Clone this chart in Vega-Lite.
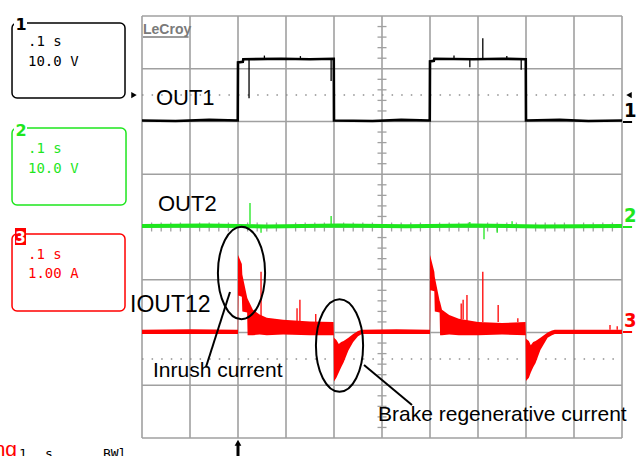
{
  "$schema": "https://vega.github.io/schema/vega-lite/v6.json",
  "width": 642,
  "height": 456,
  "autosize": {"type": "none"},
  "padding": 0,
  "background": "white",
  "config": {"view": {"stroke": null}},
  "encoding": {
    "x": {"field": "t", "type": "quantitative", "scale": {"domain": [-2.95833, 10.41667], "nice": false, "zero": false}, "axis": null},
    "y": {"field": "v", "type": "quantitative", "scale": {"domain": [-4.3412, 4.3033], "nice": false, "zero": false}, "axis": null}
  },
  "layer": [
    {
      "data": {"values": [
        {"t": 0, "v": -4, "v2": 4}, {"t": 1, "v": -4, "v2": 4}, {"t": 2, "v": -4, "v2": 4}, {"t": 3, "v": -4, "v2": 4},
        {"t": 4, "v": -4, "v2": 4}, {"t": 5, "v": -4, "v2": 4}, {"t": 6, "v": -4, "v2": 4}, {"t": 7, "v": -4, "v2": 4},
        {"t": 8, "v": -4, "v2": 4}, {"t": 9, "v": -4, "v2": 4}, {"t": 10, "v": -4, "v2": 4}
      ]},
      "mark": {"type": "rule", "color": "#a0a0a0", "strokeWidth": 1.6},
      "encoding": {"y2": {"field": "v2"}}
    },
    {
      "data": {"values": [
        {"v": -4, "t": 0, "t2": 10}, {"v": -3, "t": 0, "t2": 10}, {"v": -2, "t": 0, "t2": 10}, {"v": -1, "t": 0, "t2": 10},
        {"v": 0, "t": 0, "t2": 10}, {"v": 1, "t": 0, "t2": 10}, {"v": 2, "t": 0, "t2": 10}, {"v": 3, "t": 0, "t2": 10},
        {"v": 4, "t": 0, "t2": 10}
      ]},
      "mark": {"type": "rule", "color": "#a0a0a0", "strokeWidth": 1.6},
      "encoding": {"x2": {"field": "t2"}}
    },
    {
      "data": {"values": [
        {"t": 5, "v": -3.8}, {"t": 5, "v": -3.6}, {"t": 5, "v": -3.4}, {"t": 5, "v": -3.2}, {"t": 5, "v": -2.8}, {"t": 5, "v": -2.6}, {"t": 5, "v": -2.4}, {"t": 5, "v": -2.2},
        {"t": 5, "v": -1.8}, {"t": 5, "v": -1.6}, {"t": 5, "v": -1.4}, {"t": 5, "v": -1.2}, {"t": 5, "v": -0.8}, {"t": 5, "v": -0.6}, {"t": 5, "v": -0.4}, {"t": 5, "v": -0.2},
        {"t": 5, "v": 0.2}, {"t": 5, "v": 0.4}, {"t": 5, "v": 0.6}, {"t": 5, "v": 0.8}, {"t": 5, "v": 1.2}, {"t": 5, "v": 1.4}, {"t": 5, "v": 1.6}, {"t": 5, "v": 1.8},
        {"t": 5, "v": 2.2}, {"t": 5, "v": 2.4}, {"t": 5, "v": 2.6}, {"t": 5, "v": 2.8}, {"t": 5, "v": 3.2}, {"t": 5, "v": 3.4}, {"t": 5, "v": 3.6}, {"t": 5, "v": 3.8}
      ]},
      "mark": {"type": "tick", "orient": "horizontal", "color": "#a0a0a0", "thickness": 1.3, "size": 9, "opacity": 1}
    },
    {
      "data": {"values": [
        {"v": 0, "t": 0.2}, {"v": 0, "t": 0.4}, {"v": 0, "t": 0.6}, {"v": 0, "t": 0.8}, {"v": 0, "t": 1.2}, {"v": 0, "t": 1.4}, {"v": 0, "t": 1.6}, {"v": 0, "t": 1.8},
        {"v": 0, "t": 2.2}, {"v": 0, "t": 2.4}, {"v": 0, "t": 2.6}, {"v": 0, "t": 2.8}, {"v": 0, "t": 3.2}, {"v": 0, "t": 3.4}, {"v": 0, "t": 3.6}, {"v": 0, "t": 3.8},
        {"v": 0, "t": 4.2}, {"v": 0, "t": 4.4}, {"v": 0, "t": 4.6}, {"v": 0, "t": 4.8}, {"v": 0, "t": 5.2}, {"v": 0, "t": 5.4}, {"v": 0, "t": 5.6}, {"v": 0, "t": 5.8},
        {"v": 0, "t": 6.2}, {"v": 0, "t": 6.4}, {"v": 0, "t": 6.6}, {"v": 0, "t": 6.8}, {"v": 0, "t": 7.2}, {"v": 0, "t": 7.4}, {"v": 0, "t": 7.6}, {"v": 0, "t": 7.8},
        {"v": 0, "t": 8.2}, {"v": 0, "t": 8.4}, {"v": 0, "t": 8.6}, {"v": 0, "t": 8.8}, {"v": 0, "t": 9.2}, {"v": 0, "t": 9.4}, {"v": 0, "t": 9.6}, {"v": 0, "t": 9.8}
      ]},
      "mark": {"type": "tick", "orient": "vertical", "color": "#a0a0a0", "thickness": 1.3, "size": 9, "opacity": 1}
    },
    {
      "data": {"values": [{"v": 2.5, "t": 0, "t2": 10}, {"v": -2.5, "t": 0, "t2": 10}]},
      "mark": {"type": "rule", "color": "#909090", "strokeWidth": 1.5, "strokeDash": [1.5, 8.1]},
      "encoding": {"x2": {"field": "t2"}}
    },
    {
      "data": {"values": [
        {"t": 0, "v": 0.02}, {"t": 1.3, "v": 0.03}, {"t": 2.6, "v": 0.01}, {"t": 4.1, "v": 0.03}, {"t": 5.5, "v": 0.015}, {"t": 6.9, "v": 0.03}, {"t": 8.3, "v": 0.01}, {"t": 10, "v": 0.02}
      ]},
      "mark": {"type": "line", "color": "#1ee61e", "strokeWidth": 4}
    },
    {
      "data": {"values": [
        {"t": 0, "v": 2.02}, {"t": 0.7, "v": 2.01}, {"t": 1.4, "v": 2.03}, {"t": 1.995, "v": 2.02},
        {"t": 2.0, "v": 3.12}, {"t": 2.1, "v": 3.13}, {"t": 2.11, "v": 3.18}, {"t": 2.9, "v": 3.19}, {"t": 3.5, "v": 3.18}, {"t": 3.995, "v": 3.19},
        {"t": 4.0, "v": 2.02}, {"t": 4.8, "v": 2.01}, {"t": 5.4, "v": 2.03}, {"t": 5.995, "v": 2.02},
        {"t": 6.0, "v": 3.14}, {"t": 6.08, "v": 3.15}, {"t": 6.09, "v": 3.19}, {"t": 6.9, "v": 3.18}, {"t": 7.5, "v": 3.19}, {"t": 7.995, "v": 3.18},
        {"t": 8.0, "v": 2.02}, {"t": 8.7, "v": 2.03}, {"t": 9.3, "v": 2.01}, {"t": 10, "v": 2.02}
      ]},
      "mark": {"type": "line", "color": "#000000", "strokeWidth": 2.6}
    },
    {
      "data": {"values": [
        {"t": 0, "hi": -1.95, "lo": -2.03}, {"t": 1.0, "hi": -1.94, "lo": -2.03}, {"t": 1.995, "hi": -1.95, "lo": -2.03},
        {"t": 2.0, "hi": -0.53, "lo": -2.03}, {"t": 2.01, "hi": -0.55, "lo": -1.3}, {"t": 2.08, "hi": -0.7, "lo": -1.32},
        {"t": 2.09, "hi": -0.9, "lo": -1.6}, {"t": 2.19, "hi": -1.33, "lo": -1.62}, {"t": 2.2, "hi": -1.36, "lo": -2.05},
        {"t": 2.31, "hi": -1.57, "lo": -2.05}, {"t": 2.45, "hi": -1.66, "lo": -2.04}, {"t": 2.6, "hi": -1.72, "lo": -2.05},
        {"t": 2.94, "hi": -1.76, "lo": -2.04}, {"t": 3.5, "hi": -1.79, "lo": -2.05}, {"t": 3.99, "hi": -1.8, "lo": -2.05},
        {"t": 4.0, "hi": -2.1, "lo": -2.93}, {"t": 4.05, "hi": -2.14, "lo": -2.86}, {"t": 4.1, "hi": -2.22, "lo": -2.76},
        {"t": 4.15, "hi": -2.18, "lo": -2.66}, {"t": 4.2, "hi": -2.16, "lo": -2.57}, {"t": 4.3, "hi": -2.1, "lo": -2.34},
        {"t": 4.4, "hi": -2.03, "lo": -2.18}, {"t": 4.5, "hi": -1.97, "lo": -2.07}, {"t": 4.58, "hi": -1.95, "lo": -2.03},
        {"t": 5.3, "hi": -1.94, "lo": -2.03}, {"t": 5.995, "hi": -1.95, "lo": -2.03},
        {"t": 6.0, "hi": -0.53, "lo": -2.03}, {"t": 6.01, "hi": -0.56, "lo": -1.2}, {"t": 6.09, "hi": -0.85, "lo": -1.22},
        {"t": 6.1, "hi": -0.95, "lo": -1.6}, {"t": 6.2, "hi": -1.4, "lo": -1.62}, {"t": 6.21, "hi": -1.42, "lo": -2.05},
        {"t": 6.25, "hi": -1.57, "lo": -2.05}, {"t": 6.4, "hi": -1.67, "lo": -2.04}, {"t": 6.6, "hi": -1.74, "lo": -2.05},
        {"t": 7.0, "hi": -1.8, "lo": -2.05}, {"t": 7.5, "hi": -1.82, "lo": -2.04}, {"t": 7.99, "hi": -1.8, "lo": -2.05},
        {"t": 8.0, "hi": -2.12, "lo": -2.92}, {"t": 8.06, "hi": -2.16, "lo": -2.86}, {"t": 8.1, "hi": -2.24, "lo": -2.76},
        {"t": 8.15, "hi": -2.18, "lo": -2.66}, {"t": 8.2, "hi": -2.16, "lo": -2.58}, {"t": 8.3, "hi": -2.1, "lo": -2.33},
        {"t": 8.45, "hi": -2.0, "lo": -2.1}, {"t": 8.54, "hi": -1.96, "lo": -2.05}, {"t": 8.6, "hi": -1.95, "lo": -2.03},
        {"t": 10, "hi": -1.95, "lo": -2.03}
      ]},
      "mark": {"type": "area", "color": "#ff0000", "opacity": 1},
      "encoding": {"y": {"field": "hi", "type": "quantitative"}, "y2": {"field": "lo"}}
    },
    {
      "data": {"values": [
        {"channel": "OUT1", "t": 2.23, "base": 3.17, "tip": 2.44}, {"channel": "OUT1", "t": 3.94, "base": 3.17, "tip": 2.77},
        {"channel": "OUT1", "t": 6.83, "base": 3.17, "tip": 3.03}, {"channel": "OUT1", "t": 7.1, "base": 3.2, "tip": 3.58},
        {"channel": "OUT1", "t": 7.9, "base": 3.17, "tip": 2.98}, {"channel": "OUT1", "t": 2.55, "base": 3.19, "tip": 3.25},
        {"channel": "OUT1", "t": 3.3, "base": 3.19, "tip": 3.24}, {"channel": "OUT1", "t": 6.5, "base": 3.19, "tip": 3.25},
        {"channel": "OUT1", "t": 7.6, "base": 3.19, "tip": 3.24},
        {"channel": "OUT2", "t": 2.25, "base": 0.05, "tip": 0.455}, {"channel": "OUT2", "t": 2.48, "base": 0.0, "tip": -0.11},
        {"channel": "OUT2", "t": 3.94, "base": 0.05, "tip": 0.21}, {"channel": "OUT2", "t": 6.83, "base": 0.05, "tip": 0.095},
        {"channel": "OUT2", "t": 7.125, "base": 0.0, "tip": -0.23}, {"channel": "OUT2", "t": 7.4, "base": 0.0, "tip": -0.11},
        {"channel": "OUT2", "t": 7.71, "base": 0.05, "tip": 0.11},
        {"channel": "IOUT12", "t": 2.48, "base": -1.7, "tip": -0.85}, {"channel": "IOUT12", "t": 3.23, "base": -1.78, "tip": -1.54},
        {"channel": "IOUT12", "t": 3.29, "base": -1.78, "tip": -1.38}, {"channel": "IOUT12", "t": 3.62, "base": -1.8, "tip": -1.65},
        {"channel": "IOUT12", "t": 6.65, "base": -1.75, "tip": -1.45}, {"channel": "IOUT12", "t": 6.69, "base": -1.75, "tip": -1.38},
        {"channel": "IOUT12", "t": 6.77, "base": -1.78, "tip": -1.29}, {"channel": "IOUT12", "t": 7.1, "base": -1.8, "tip": -0.85},
        {"channel": "IOUT12", "t": 7.42, "base": -1.8, "tip": -1.48}, {"channel": "IOUT12", "t": 7.83, "base": -1.8, "tip": -1.73},
        {"channel": "IOUT12", "t": 9.75, "base": -1.95, "tip": -1.86}, {"channel": "IOUT12", "t": 9.9, "base": -1.95, "tip": -1.88}
      ]},
      "mark": {"type": "rule", "strokeWidth": 1.3},
      "encoding": {
        "y": {"field": "base", "type": "quantitative"},
        "y2": {"field": "tip"},
        "color": {"field": "channel", "type": "nominal", "scale": {"domain": ["OUT1", "OUT2", "IOUT12"], "range": ["#000000", "#1ee61e", "#ff0000"]}, "legend": null}
      }
    },
    {
      "data": {"values": [{"t": 2.073, "v": -0.872}, {"t": 4.115, "v": -2.246}]},
      "mark": {"type": "point", "filled": false, "opacity": 1, "stroke": "#000000", "strokeWidth": 2, "size": 8556,
        "shape": "M 0.51 0 C 0.51 0.5523 0.2817 1 0 1 C -0.2817 1 -0.51 0.5523 -0.51 0 C -0.51 -0.5523 -0.2817 -1 0 -1 C 0.2817 -1 0.51 -0.5523 0.51 0 Z"}
    },
    {
      "data": {"values": [{"t": 1.833, "v": -1.232, "t2": 1.333, "v2": -2.654}, {"t": 4.625, "v": -2.616, "t2": 5.625, "v2": -3.374}]},
      "mark": {"type": "rule", "color": "#000000", "strokeWidth": 2},
      "encoding": {"x2": {"field": "t2"}, "y2": {"field": "v2"}}
    },
    {
      "data": {"values": [
        {"label": "OUT1", "t": 0.29, "v": 2.313},
        {"label": "OUT2", "t": 0.333, "v": 0.303}
      ]},
      "mark": {"type": "text", "font": "Liberation Sans", "fontSize": 22, "align": "left", "baseline": "alphabetic", "color": "#000000"},
      "encoding": {"text": {"field": "label"}}
    },
    {
      "data": {"values": [{"label": "IOUT12", "t": -0.25, "v": -1.611}]},
      "mark": {"type": "text", "font": "Liberation Sans", "fontSize": 23, "align": "left", "baseline": "alphabetic", "color": "#000000"},
      "encoding": {"text": {"field": "label"}}
    },
    {
      "data": {"values": [
        {"label": "Inrush current", "t": 0.229, "v": -2.844},
        {"label": "Brake regenerative current", "t": 4.917, "v": -3.678}
      ]},
      "mark": {"type": "text", "font": "Liberation Sans", "fontSize": 21, "align": "left", "baseline": "alphabetic", "color": "#000000"},
      "encoding": {"text": {"field": "label"}}
    },
    {
      "data": {"values": [
        {"channel": "OUT1", "t": -2.708, "t2": -0.354, "v": 3.867, "v2": 2.445},
        {"channel": "OUT2", "t": -2.708, "t2": -0.333, "v": 1.877, "v2": 0.417},
        {"channel": "IOUT12", "t": -2.708, "t2": -0.354, "v": -0.133, "v2": -1.592}
      ]},
      "mark": {"type": "rect", "filled": false, "strokeWidth": 1.5, "cornerRadius": 5},
      "encoding": {
        "x2": {"field": "t2"},
        "y2": {"field": "v2"},
        "color": {"field": "channel", "type": "nominal", "scale": {"domain": ["OUT1", "OUT2", "IOUT12"], "range": ["#000000", "#1ee61e", "#ff0000"]}, "legend": null}
      }
    },
    {
      "data": {"values": [
        {"channel": "OUT1", "t": -2.667, "t2": -2.396, "v": 4.057, "v2": 3.735},
        {"channel": "OUT2", "t": -2.667, "t2": -2.396, "v": 2.028, "v2": 1.706}
      ]},
      "mark": {"type": "rect", "fill": "#ffffff", "strokeWidth": 0},
      "encoding": {"x2": {"field": "t2"}, "y2": {"field": "v2"}}
    },
    {
      "data": {"values": [{"channel": "IOUT12", "t": -2.646, "t2": -2.417, "v": -0.019, "v2": -0.341}]},
      "mark": {"type": "rect", "fill": "#ff0000", "strokeWidth": 0},
      "encoding": {"x2": {"field": "t2"}, "y2": {"field": "v2"}}
    },
    {
      "data": {"values": [
        {"channel": "OUT1", "label": "1", "t": -2.52, "v": 3.735},
        {"channel": "OUT2", "label": "2", "t": -2.52, "v": 1.725}
      ]},
      "mark": {"type": "text", "font": "DejaVu Sans", "fontWeight": "bold", "fontSize": 16, "align": "center", "baseline": "alphabetic"},
      "encoding": {
        "text": {"field": "label"},
        "color": {"field": "channel", "type": "nominal", "scale": {"domain": ["OUT1", "OUT2", "IOUT12"], "range": ["#000000", "#1ee61e", "#ff0000"]}, "legend": null}
      }
    },
    {
      "data": {"values": [{"label": "3", "t": -2.531, "v": -0.294}]},
      "mark": {"type": "text", "font": "DejaVu Sans", "fontWeight": "bold", "fontSize": 15, "align": "center", "baseline": "alphabetic", "color": "#ffffff"},
      "encoding": {"text": {"field": "label"}}
    },
    {
      "data": {"values": [
        {"channel": "OUT1", "label": ".1 s", "t": -2.375, "v": 3.431},
        {"channel": "OUT1", "label": "10.0 V", "t": -2.375, "v": 3.052},
        {"channel": "OUT2", "label": ".1 s", "t": -2.375, "v": 1.403},
        {"channel": "OUT2", "label": "10.0 V", "t": -2.375, "v": 1.024},
        {"channel": "IOUT12", "label": ".1 s", "t": -2.375, "v": -0.607},
        {"channel": "IOUT12", "label": "1.00 A", "t": -2.375, "v": -0.967}
      ]},
      "mark": {"type": "text", "font": "DejaVu Sans Mono", "fontSize": 14, "align": "left", "baseline": "alphabetic"},
      "encoding": {
        "text": {"field": "label"},
        "color": {"field": "channel", "type": "nominal", "scale": {"domain": ["OUT1", "OUT2", "IOUT12"], "range": ["#000000", "#1ee61e", "#ff0000"]}, "legend": null}
      }
    },
    {
      "data": {"values": [
        {"channel": "OUT1", "label": "1", "t": 10.04, "v": 2.085},
        {"channel": "OUT2", "label": "2", "t": 10.04, "v": 0.095},
        {"channel": "IOUT12", "label": "3", "t": 10.04, "v": -1.896}
      ]},
      "mark": {"type": "text", "font": "Liberation Sans Narrow, DejaVu Sans Condensed, Liberation Sans", "fontWeight": "bold", "fontSize": 20, "align": "left", "baseline": "alphabetic"},
      "encoding": {
        "text": {"field": "label"},
        "color": {"field": "channel", "type": "nominal", "scale": {"domain": ["OUT1", "OUT2", "IOUT12"], "range": ["#000000", "#1ee61e", "#ff0000"]}, "legend": null}
      }
    },
    {
      "data": {"values": [
        {"channel": "OUT1", "t": 10.02, "t2": 10.21, "v": 1.99},
        {"channel": "OUT2", "t": 10.02, "t2": 10.21, "v": 0.0},
        {"channel": "IOUT12", "t": 10.02, "t2": 10.21, "v": -1.99}
      ]},
      "mark": {"type": "rule", "strokeWidth": 2},
      "encoding": {
        "x2": {"field": "t2"},
        "color": {"field": "channel", "type": "nominal", "scale": {"domain": ["OUT1", "OUT2", "IOUT12"], "range": ["#000000", "#1ee61e", "#ff0000"]}, "legend": null}
      }
    },
    {
      "data": {"values": [{"t": -0.167, "v": 2.5}]},
      "mark": {"type": "point", "shape": "triangle-right", "filled": true, "opacity": 1, "color": "#000000", "size": 40}
    },
    {
      "data": {"values": [{"t": 10.146, "v": 2.5}]},
      "mark": {"type": "point", "shape": "triangle-left", "filled": true, "opacity": 1, "color": "#000000", "size": 40}
    },
    {
      "data": {"values": [{"label": "LeCroy", "t": 0.021, "v": 3.659}]},
      "mark": {"type": "text", "font": "Liberation Sans", "fontWeight": "bold", "fontSize": 14, "align": "left", "baseline": "alphabetic", "color": "#7a7a7a"},
      "encoding": {"text": {"field": "label"}}
    },
    {
      "data": {"values": [{"t": 0.02, "t2": 0.97, "v": 3.602}]},
      "mark": {"type": "rule", "color": "#7a7a7a", "strokeWidth": 1.5},
      "encoding": {"x2": {"field": "t2"}}
    },
    {
      "data": {"values": [{"t": 2.0, "v": -4.114, "v2": -4.45}]},
      "mark": {"type": "rule", "color": "#000000", "strokeWidth": 3},
      "encoding": {"y2": {"field": "v2"}}
    },
    {
      "data": {"values": [{"t": 2.0, "v": -4.09}]},
      "mark": {"type": "point", "shape": "triangle-up", "filled": true, "opacity": 1, "color": "#000000", "size": 45}
    },
    {
      "data": {"values": [{"label": "ng", "t": -2.604, "v": -4.341}]},
      "mark": {"type": "text", "font": "Liberation Sans", "fontSize": 21, "align": "right", "baseline": "alphabetic", "color": "#ff0000"},
      "encoding": {"text": {"field": "label"}}
    },
    {
      "data": {"values": [
        {"label": "1", "t": -2.5625, "v": -4.37},
        {"label": "s", "t": -2.02, "v": -4.37},
        {"label": "BWl", "t": -0.8125, "v": -4.37}
      ]},
      "mark": {"type": "text", "font": "DejaVu Sans Mono", "fontSize": 13, "align": "left", "baseline": "alphabetic", "color": "#000000"},
      "encoding": {"text": {"field": "label"}}
    }
  ]
}
